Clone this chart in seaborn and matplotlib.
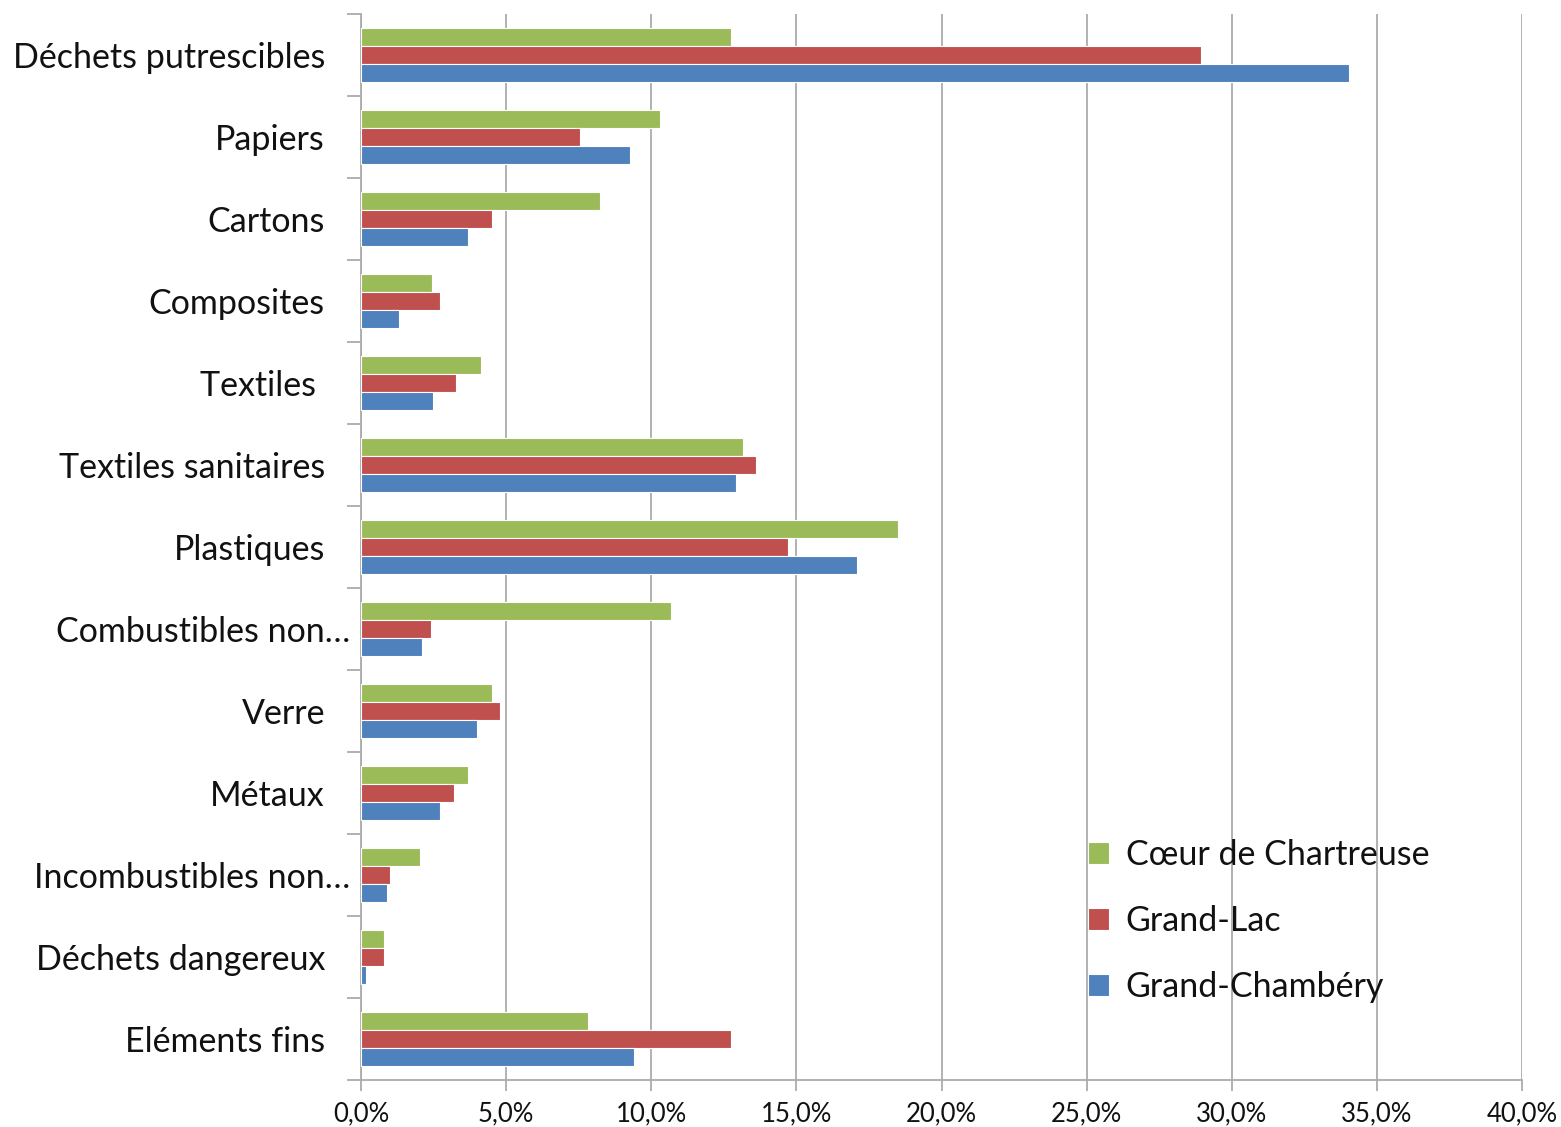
import numpy as np
import pandas as pd
import matplotlib.pyplot as plt
import matplotlib.transforms as mtransforms
import seaborn as sns
from matplotlib.ticker import FuncFormatter, MultipleLocator

# data (% of household waste)
categories = ["Déchets putrescibles", "Papiers", "Cartons", "Composites", "Textiles ",
              "Textiles sanitaires", "Plastiques", "Combustibles non…", "Verre", "Métaux",
              "Incombustibles non…", "Déchets dangereux", "Eléments fins"]
series = ["Cœur de Chartreuse", "Grand-Lac", "Grand-Chambéry"]
chartreuse = [12.76, 10.3, 8.23, 2.45, 4.13, 13.17, 18.51, 10.69, 4.51, 3.67, 2.04, 0.80, 7.83]
grand_lac = [28.94, 7.53, 4.52, 2.72, 3.28, 13.62, 14.71, 2.41, 4.79, 3.19, 0.99, 0.80, 12.74]
chambery = [34.03, 9.28, 3.69, 1.31, 2.49, 12.91, 17.10, 2.10, 4.00, 2.71, 0.90, 0.18, 9.41]
colors = ["#9BBB59", "#C0504D", "#4F81BD"]

df = pd.DataFrame({
    "categorie": categories * 3,
    "zone": [series[0]] * 13 + [series[1]] * 13 + [series[2]] * 13,
    "part": chartreuse + grand_lac + chambery,
})

sns.set_style("white")
plt.rcParams["font.family"] = ["Lato", "DejaVu Sans"]

fig = plt.figure(figsize=(15.61, 11.27), dpi=100)
ax = fig.add_axes([0.2313, 0.0417, 0.7437, 0.9459])

sns.barplot(data=df, x="part", y="categorie", hue="zone", hue_order=series,
            order=categories, palette=colors, saturation=1, orient="h", width=0.66,
            edgecolor="white", linewidth=0.8, ax=ax, zorder=3)

ax.set_xlim(0, 40)
ax.set_ylim(12.5, -0.5)
ax.xaxis.set_major_locator(MultipleLocator(5))
ax.xaxis.set_major_formatter(FuncFormatter(lambda v, p: f"{v:.1f}%".replace(".", ",")))
ax.grid(axis="x", color="#ABABAB", linewidth=1.3, zorder=0)
ax.set_axisbelow(True)

ax.set_yticks(np.arange(len(categories)))
ax.set_yticklabels(categories)
ax.set_yticks(np.arange(-0.5, len(categories), 1), minor=True)
ax.tick_params(axis="y", which="major", length=0, pad=26, labelsize=24.5, labelcolor="#111111")
ax.tick_params(axis="y", which="minor", length=10, width=1.3, color="#ABABAB", direction="out", left=True)
ax.tick_params(axis="x", which="major", length=8, width=1.3, color="#ABABAB", direction="out",
               bottom=True, labelsize=18.5, pad=7, labelcolor="#111111")

# truncated labels run over the tick marks, as in the original
for lab in ax.get_yticklabels():
    if lab.get_text().endswith("…"):
        shift = mtransforms.ScaledTranslation(25 / 100, 0, fig.dpi_scale_trans)
        lab.set_transform(lab.get_transform() + shift)

for side in ["top", "right"]:
    ax.spines[side].set_visible(False)
for side in ["left", "bottom"]:
    ax.spines[side].set_color("#ABABAB")
    ax.spines[side].set_linewidth(1.3)

ax.set_xlabel("")
ax.set_ylabel("")

ax.legend(loc="upper left", bbox_to_anchor=(0.60, 0.255), frameon=False, fontsize=24.5,
          handlelength=0.6, handleheight=0.6, handletextpad=0.5, labelspacing=1.0,
          labelcolor="#111111")

fig.savefig("out.png", dpi=100)
